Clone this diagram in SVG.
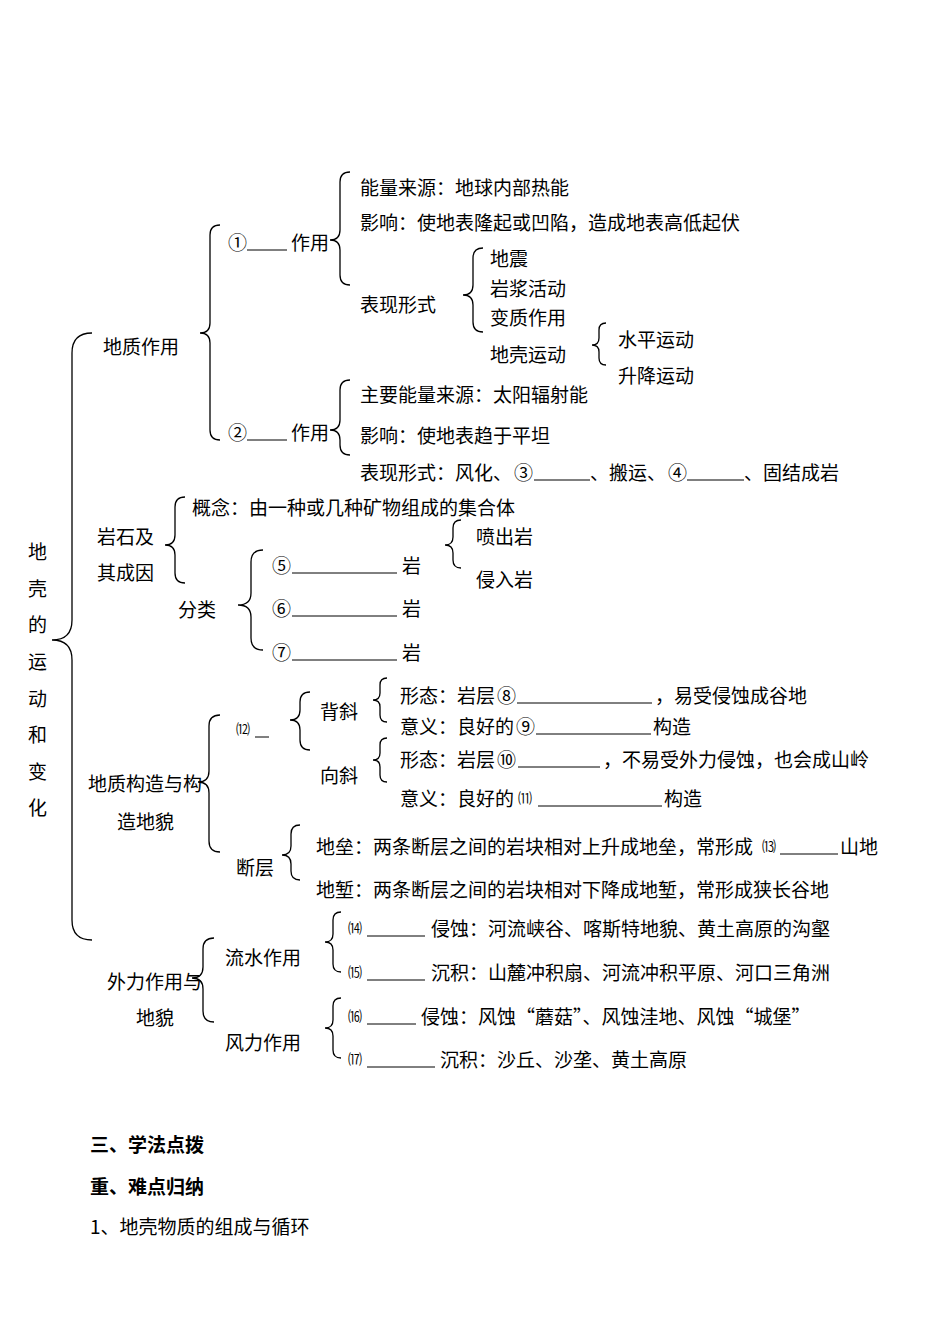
<svg xmlns="http://www.w3.org/2000/svg" width="950" height="1342" viewBox="0 0 950 1342">
<style>
text{font-family:"Noto Sans CJK SC","Noto Sans",sans-serif;font-size:19px;fill:#000;dominant-baseline:central}
.s{font-size:14px}
.b{font-weight:bold}
.br{fill:none;stroke:#000;stroke-width:1.3}
.u{stroke:#000;stroke-width:1}
</style>
<rect width="950" height="1342" fill="#fff"/>
<g id="connectors">
<path class="br" d="M92,333 Q72,333 72,353 L72,620 Q72,640 52,640 Q72,640 72,660 L72,920 Q72,940 92,940"/>
<path class="br" d="M220,225 Q210,225 210,235 L210,323 Q210,333 200,333 Q210,333 210,343 L210,430 Q210,440 220,440"/>
<path class="br" d="M350,172 Q340,172 340,182 L340,230 Q340,240 330,240 Q340,240 340,250 L340,275 Q340,285 350,285"/>
<path class="br" d="M483,248 Q473,248 473,258 L473,285 Q473,295 463,295 Q473,295 473,305 L473,322 Q473,332 483,332"/>
<path class="br" d="M606,323 Q599,323 599,330 L599,338 Q599,345 592,345 Q599,345 599,352 L599,358 Q599,365 606,365"/>
<path class="br" d="M350,380 Q340,380 340,390 L340,420 Q340,430 330,430 Q340,430 340,440 L340,445 Q340,455 350,455"/>
<path class="br" d="M185,497 Q175,497 175,507 L175,535 Q175,545 165,545 Q175,545 175,555 L175,573 Q175,583 185,583"/>
<path class="br" d="M461,520 Q453,520 453,528 L453,537 Q453,545 445,545 Q453,545 453,553 L453,560 Q453,568 461,568"/>
<path class="br" d="M263,550 Q251,550 251,562 L251,593 Q251,605 238,605 Q251,605 251,617 L251,638 Q251,650 263,650"/>
<path class="br" d="M220,715 Q209,715 209,726 L209,771 Q209,782 198,782 Q209,782 209,793 L209,841 Q209,852 220,852"/>
<path class="br" d="M310,692 Q300,692 300,702 L300,710 Q300,720 290,720 Q300,720 300,730 L300,740 Q300,750 310,750"/>
<path class="br" d="M387,678 Q380,678 380,685 L380,693 Q380,700 373,700 Q380,700 380,707 L380,715 Q380,722 387,722"/>
<path class="br" d="M387,738 Q380,738 380,745 L380,753 Q380,760 373,760 Q380,760 380,767 L380,775 Q380,782 387,782"/>
<path class="br" d="M300,825 Q291,825 291,834 L291,846 Q291,855 282,855 Q291,855 291,864 L291,871 Q291,880 300,880"/>
<path class="br" d="M214,938 Q203,938 203,949 L203,967 Q203,978 192,978 Q203,978 203,989 L203,1011 Q203,1022 214,1022"/>
<path class="br" d="M341,912 Q333,912 333,920 L333,934 Q333,942 325,942 Q333,942 333,950 L333,964 Q333,972 341,972"/>
<path class="br" d="M341,998 Q333,998 333,1006 L333,1020 Q333,1028 325,1028 Q333,1028 333,1036 L333,1050 Q333,1058 341,1058"/>
</g>
<g id="blanks">
<line class="u" x1="247" y1="250" x2="287" y2="250"/>
<line class="u" x1="247" y1="440" x2="287" y2="440"/>
<line class="u" x1="534" y1="480" x2="590" y2="480"/>
<line class="u" x1="687" y1="480" x2="744" y2="480"/>
<line class="u" x1="292" y1="573" x2="397" y2="573"/>
<line class="u" x1="292" y1="616" x2="397" y2="616"/>
<line class="u" x1="292" y1="660" x2="397" y2="660"/>
<line class="u" x1="255" y1="737" x2="269" y2="737"/>
<line class="u" x1="517" y1="703" x2="652" y2="703"/>
<line class="u" x1="536" y1="734" x2="651" y2="734"/>
<line class="u" x1="518" y1="767" x2="600" y2="767"/>
<line class="u" x1="538" y1="806" x2="662" y2="806"/>
<line class="u" x1="780" y1="854" x2="838" y2="854"/>
<line class="u" x1="367" y1="936" x2="425" y2="936"/>
<line class="u" x1="367" y1="980" x2="425" y2="980"/>
<line class="u" x1="367" y1="1024" x2="416" y2="1024"/>
<line class="u" x1="367" y1="1067" x2="435" y2="1067"/>
</g>
<g id="n-root"><text x="28" y="550">地</text><text x="28" y="587">壳</text><text x="28" y="623">的</text><text x="28" y="660">运</text><text x="28" y="697">动</text><text x="28" y="733">和</text><text x="28" y="770">变</text><text x="28" y="806">化</text></g>
<g id="n-dizhi"><text x="103" y="345">地质作用</text></g>
<g id="n-1"><text x="228" y="241">①</text><text x="291" y="241">作用</text></g>
<g id="n-1a"><text x="360" y="186">能量来源：地球内部热能</text></g>
<g id="n-1b"><text x="360" y="221">影响：使地表隆起或凹陷，造成地表高低起伏</text></g>
<g id="n-1c"><text x="360" y="303">表现形式</text></g>
<g id="n-1c1"><text x="490" y="257">地震</text><text x="490" y="287">岩浆活动</text><text x="490" y="316">变质作用</text><text x="490" y="353">地壳运动</text></g>
<g id="n-1c2"><text x="618" y="338">水平运动</text><text x="618" y="374">升降运动</text></g>
<g id="n-2"><text x="228" y="431">②</text><text x="291" y="431">作用</text></g>
<g id="n-2a"><text x="360" y="393">主要能量来源：太阳辐射能</text></g>
<g id="n-2b"><text x="360" y="434">影响：使地表趋于平坦</text></g>
<g id="n-2c"><text x="360" y="471">表现形式：风化、</text><text x="514" y="471">③</text><text x="590" y="471">、搬运、</text><text x="668" y="471">④</text><text x="744" y="471">、固结成岩</text></g>
<g id="n-rock"><text x="97" y="535">岩石及</text><text x="97" y="571">其成因</text></g>
<g id="n-rock1"><text x="192" y="506">概念：由一种或几种矿物组成的集合体</text></g>
<g id="n-rock2"><text x="178" y="608">分类</text></g>
<g id="n-rock3"><text x="272" y="564">⑤</text><text x="402" y="564">岩</text><text x="272" y="607">⑥</text><text x="402" y="607">岩</text><text x="272" y="651">⑦</text><text x="402" y="651">岩</text></g>
<g id="n-rock4"><text x="476" y="535">喷出岩</text><text x="476" y="578">侵入岩</text></g>
<g id="n-struct"><text x="88" y="782">地质构造与构</text><text x="117" y="820">造地貌</text></g>
<g id="n-12"><text class="s" x="236" y="728">⑿</text></g>
<g id="n-bx"><text x="320" y="710">背斜</text><text x="400" y="694">形态：岩层</text><text x="497" y="694">⑧</text><text x="655" y="694">，易受侵蚀成谷地</text><text x="400" y="725">意义：良好的</text><text x="516" y="725">⑨</text><text x="653" y="725">构造</text></g>
<g id="n-xx"><text x="320" y="774">向斜</text><text x="400" y="758">形态：岩层</text><text x="497" y="758">⑩</text><text x="603" y="758">，不易受外力侵蚀，也会成山岭</text><text x="400" y="797">意义：良好的</text><text class="s" x="518" y="797">⑾</text><text x="664" y="797">构造</text></g>
<g id="n-fault"><text x="236" y="866">断层</text><text x="316" y="845">地垒：两条断层之间的岩块相对上升成地垒，常形成</text><text class="s" x="762" y="845">⒀</text><text x="840" y="845">山地</text><text x="316" y="888">地堑：两条断层之间的岩块相对下降成地堑，常形成狭长谷地</text></g>
<g id="n-ext"><text x="107" y="980">外力作用与</text><text x="136" y="1016">地貌</text></g>
<g id="n-water"><text x="225" y="956">流水作用</text><text class="s" x="348" y="927">⒁</text><text x="431" y="927">侵蚀：河流峡谷、喀斯特地貌、黄土高原的沟壑</text><text class="s" x="348" y="971">⒂</text><text x="431" y="971">沉积：山麓冲积扇、河流冲积平原、河口三角洲</text></g>
<g id="n-wind"><text x="225" y="1041">风力作用</text><text class="s" x="348" y="1015">⒃</text><text x="421" y="1015">侵蚀：风蚀“蘑菇”、风蚀洼地、风蚀“城堡”</text><text class="s" x="348" y="1058">⒄</text><text x="440" y="1058">沉积：沙丘、沙垄、黄土高原</text></g>
<g id="footer"><text class="b" x="90" y="1143">三、学法点拨</text><text class="b" x="90" y="1185">重、难点归纳</text><text x="90" y="1225">1、地壳物质的组成与循环</text></g>
</svg>
